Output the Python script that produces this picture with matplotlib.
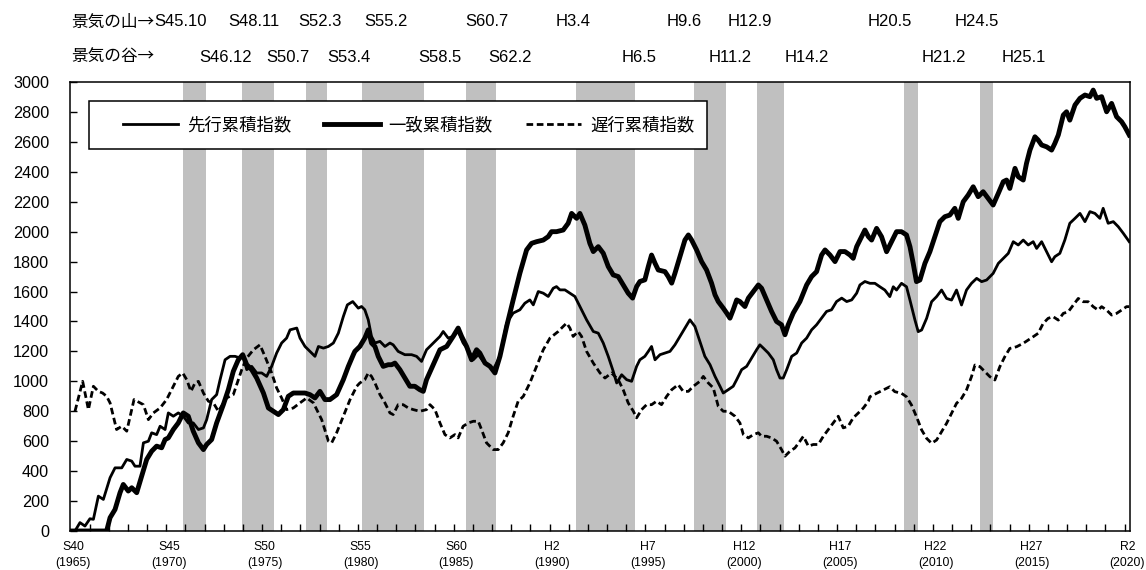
import matplotlib
matplotlib.use("Agg")
import matplotlib.pyplot as plt
from matplotlib.patches import Rectangle
from matplotlib.lines import Line2D
import numpy as np

# ---------------- data (decimal year, cumulative index) ----------------
lead_t = [1965.10, 1965.36, 1965.62, 1965.88, 1966.06, 1966.32, 1966.58, 1966.93, 1967.19, 1967.54,
          1967.80, 1968.06, 1968.23, 1968.49, 1968.67, 1968.93, 1969.10, 1969.36, 1969.54, 1969.80,
          1969.97, 1970.23, 1970.49, 1970.75, 1971.01, 1971.27, 1971.54, 1971.80, 1971.97, 1972.23,
          1972.49, 1972.67, 1972.93, 1973.19, 1973.45, 1973.71, 1973.88, 1974.06, 1974.32, 1974.58,
          1974.84, 1975.10, 1975.36, 1975.62, 1975.88, 1976.14, 1976.32, 1976.67, 1976.84, 1977.10,
          1977.36, 1977.62, 1977.80, 1978.06, 1978.32, 1978.58, 1978.84, 1979.10, 1979.31, 1979.59,
          1979.88, 1980.05, 1980.22, 1980.40, 1980.57, 1980.75, 1981.01, 1981.27, 1981.53, 1981.70,
          1981.96, 1982.31, 1982.66, 1982.92, 1983.18, 1983.44, 1983.79, 1984.14, 1984.31, 1984.57,
          1984.83, 1985.09, 1985.35, 1985.62, 1985.88, 1986.14, 1986.40, 1986.66, 1986.92, 1987.27,
          1987.62, 1987.96, 1988.31, 1988.57, 1988.83, 1989.01, 1989.27, 1989.53, 1989.79, 1990.05,
          1990.22, 1990.40, 1990.66, 1990.92, 1991.18, 1991.44, 1991.79, 1992.14, 1992.40, 1992.66,
          1992.92, 1993.18, 1993.36, 1993.62, 1993.88, 1994.14, 1994.40, 1994.57, 1994.83, 1995.01,
          1995.18, 1995.36, 1995.62, 1995.88, 1996.14, 1996.40, 1996.66, 1996.92, 1997.18, 1997.44,
          1997.70, 1997.96, 1998.23, 1998.49, 1998.75, 1998.92, 1999.18, 1999.44, 1999.62, 1999.88,
          2000.14, 2000.40, 2000.66, 2000.83, 2001.01, 2001.27, 2001.53, 2001.70, 2001.88, 2002.05,
          2002.23, 2002.49, 2002.75, 2003.01, 2003.27, 2003.53, 2003.79, 2004.05, 2004.31, 2004.57,
          2004.83, 2005.10, 2005.36, 2005.62, 2005.88, 2006.05, 2006.31, 2006.57, 2006.83, 2007.09,
          2007.35, 2007.61, 2007.79, 2007.96, 2008.22, 2008.48, 2008.66, 2008.92, 2009.09, 2009.27,
          2009.53, 2009.79, 2010.05, 2010.31, 2010.57, 2010.83, 2011.09, 2011.35, 2011.61, 2011.87,
          2012.14, 2012.40, 2012.66, 2013.00, 2013.27, 2013.53, 2013.79, 2014.05, 2014.31, 2014.57,
          2014.83, 2015.09, 2015.27, 2015.53, 2015.79, 2016.05, 2016.22, 2016.48, 2016.74, 2017.00,
          2017.27, 2017.53, 2017.79, 2018.05, 2018.31, 2018.57, 2018.74, 2019.00, 2019.27, 2019.53,
          2019.79, 2020.10]
lead_v = [0, 56, 33, 82, 78, 233, 211, 356, 422, 422,
          478, 467, 433, 433, 589, 600, 656, 644, 700, 678,
          789, 767, 789, 767, 722, 722, 678, 689, 744, 878,
          911, 1011, 1144, 1167, 1167, 1156, 1167, 1078, 1100, 1056,
          1056, 1033, 1100, 1189, 1256, 1289, 1344, 1356, 1289, 1233,
          1200, 1167, 1233, 1222, 1233, 1256, 1322, 1433, 1511, 1533,
          1489, 1500, 1478, 1411, 1300, 1256, 1267, 1233, 1256, 1244,
          1200, 1178, 1178, 1167, 1133, 1211, 1256, 1300, 1333, 1289,
          1300, 1333, 1256, 1211, 1144, 1178, 1133, 1111, 1078, 1167,
          1389, 1456, 1478, 1522, 1544, 1511, 1600, 1589, 1567, 1622,
          1633, 1611, 1611, 1589, 1567, 1500, 1411, 1333, 1322, 1256,
          1167, 1067, 989, 1044, 1011, 1000, 1100, 1144, 1167, 1200,
          1233, 1144, 1178, 1189, 1200, 1244, 1300, 1356, 1411, 1367,
          1267, 1167, 1111, 1033, 967, 922, 944, 967, 1011, 1078,
          1100, 1156, 1211, 1244, 1222, 1189, 1144, 1078, 1022, 1022,
          1078, 1167, 1189, 1256, 1289, 1344, 1378, 1422, 1467, 1478,
          1533, 1556, 1533, 1544, 1589, 1644, 1667, 1655, 1655, 1632,
          1610, 1566, 1632, 1610, 1655, 1632, 1543, 1410, 1332, 1343,
          1421, 1532, 1566, 1610, 1554, 1543, 1610, 1510, 1610, 1655,
          1688, 1666, 1677, 1721, 1788, 1822, 1855, 1933, 1911, 1944,
          1911, 1933, 1888, 1933, 1866, 1799, 1833, 1855, 1944, 2056,
          2089, 2122, 2067, 2134, 2122, 2089, 2156, 2056, 2067, 2033,
          1989, 1933]

coin_t = [1964.84, 1966.75, 1966.93, 1967.19, 1967.45, 1967.62, 1967.88, 1968.06, 1968.32, 1968.58,
          1968.84, 1969.10, 1969.36, 1969.62, 1969.80, 1969.97, 1970.23, 1970.49, 1970.75, 1971.01,
          1971.27, 1971.54, 1971.80, 1971.97, 1972.23, 1972.49, 1972.84, 1973.10, 1973.36, 1973.62,
          1973.85, 1974.06, 1974.32, 1974.58, 1974.93, 1975.19, 1975.45, 1975.71, 1975.97, 1976.23,
          1976.49, 1976.75, 1977.10, 1977.36, 1977.62, 1977.88, 1978.14, 1978.40, 1978.75, 1979.10,
          1979.36, 1979.62, 1979.70, 1979.96, 1980.22, 1980.40, 1980.57, 1980.75, 1980.92, 1981.18,
          1981.44, 1981.62, 1981.79, 1982.05, 1982.31, 1982.57, 1982.83, 1983.09, 1983.27, 1983.44,
          1983.79, 1984.14, 1984.49, 1984.83, 1985.09, 1985.27, 1985.53, 1985.79, 1986.05, 1986.22,
          1986.49, 1986.75, 1987.01, 1987.27, 1987.62, 1987.96, 1988.31, 1988.66, 1988.92, 1989.18,
          1989.53, 1989.79, 1989.96, 1990.22, 1990.57, 1990.83, 1991.01, 1991.27, 1991.44, 1991.70,
          1991.96, 1992.14, 1992.40, 1992.66, 1992.92, 1993.18, 1993.44, 1993.70, 1993.96, 1994.19,
          1994.40, 1994.57, 1994.83, 1995.01, 1995.18, 1995.36, 1995.53, 1995.88, 1996.05, 1996.23,
          1996.40, 1996.66, 1996.92, 1997.10, 1997.27, 1997.53, 1997.79, 1998.05, 1998.31, 1998.49,
          1998.66, 1998.92, 1999.10, 1999.27, 1999.44, 1999.62, 1999.79, 2000.05, 2000.23, 2000.49,
          2000.75, 2000.92, 2001.18, 2001.44, 2001.70, 2001.96, 2002.14, 2002.31, 2002.57, 2002.92,
          2003.27, 2003.53, 2003.79, 2004.05, 2004.23, 2004.49, 2004.75, 2005.01, 2005.27, 2005.53,
          2005.70, 2005.88, 2006.14, 2006.31, 2006.49, 2006.66, 2006.92, 2007.18, 2007.44, 2007.70,
          2007.96, 2008.22, 2008.48, 2008.66, 2008.83, 2009.00, 2009.18, 2009.44, 2009.70, 2009.96,
          2010.22, 2010.48, 2010.74, 2011.00, 2011.18, 2011.44, 2011.70, 2011.96, 2012.22, 2012.48,
          2012.74, 2013.00, 2013.27, 2013.53, 2013.70, 2013.87, 2014.14, 2014.31, 2014.57, 2014.74,
          2014.92, 2015.18, 2015.35, 2015.53, 2015.79, 2016.05, 2016.22, 2016.40, 2016.66, 2016.83,
          2017.00, 2017.27, 2017.53, 2017.79, 2018.05, 2018.22, 2018.40, 2018.66, 2018.92, 2019.18,
          2019.44, 2019.70, 2019.87, 2020.10]
coin_v = [0, 0, 89, 144, 256, 311, 267, 289, 256, 367,
          478, 533, 567, 556, 611, 622, 678, 722, 789, 767,
          667, 589, 544, 578, 611, 722, 844, 944, 1067, 1144,
          1178, 1111, 1078, 1022, 922, 822, 800, 778, 811, 900,
          922, 922, 922, 911, 889, 933, 878, 878, 911, 1011,
          1100, 1178, 1200, 1233, 1289, 1344, 1256, 1233, 1167, 1100,
          1111, 1111, 1122, 1078, 1022, 967, 967, 944, 933, 1011,
          1111, 1211, 1233, 1300, 1356, 1300, 1233, 1144, 1211, 1189,
          1122, 1100, 1056, 1167, 1367, 1544, 1722, 1878, 1922, 1933,
          1944, 1967, 2000, 2000, 2011, 2056, 2122, 2089, 2122, 2044,
          1922, 1867, 1900, 1856, 1767, 1711, 1700, 1644, 1589, 1556,
          1633, 1667, 1678, 1767, 1844, 1789, 1744, 1733, 1700, 1656,
          1722, 1833, 1944, 1978, 1944, 1878, 1800, 1744, 1656, 1578,
          1533, 1489, 1456, 1422, 1478, 1544, 1533, 1500, 1556, 1600,
          1644, 1622, 1544, 1467, 1400, 1378, 1311, 1378, 1456, 1533,
          1644, 1700, 1733, 1844, 1878, 1844, 1800, 1867, 1867, 1844,
          1822, 1900, 1967, 2011, 1967, 1944, 2022, 1966, 1866, 1933,
          2000, 2000, 1978, 1900, 1788, 1666, 1677, 1788, 1866, 1966,
          2067, 2100, 2111, 2156, 2089, 2200, 2245, 2300, 2234, 2267,
          2222, 2178, 2256, 2334, 2345, 2289, 2423, 2367, 2345, 2456,
          2545, 2634, 2612, 2579, 2567, 2545, 2590, 2646, 2779, 2801,
          2745, 2846, 2891, 2913, 2902, 2946, 2891, 2902, 2801, 2857,
          2768, 2735, 2701, 2646]

lag_t = [1965.10, 1965.50, 1965.80, 1966.06, 1966.32, 1966.54, 1966.75, 1966.93, 1967.27, 1967.54,
         1967.80, 1968.18, 1968.49, 1968.67, 1968.93, 1969.19, 1969.54, 1969.88, 1970.23, 1970.49,
         1970.72, 1970.93, 1971.15, 1971.36, 1971.54, 1971.80, 1972.06, 1972.32, 1972.58, 1973.01,
         1973.36, 1973.80, 1974.06, 1974.41, 1974.75, 1975.01, 1975.36, 1975.62, 1975.88, 1976.14,
         1976.49, 1976.84, 1977.19, 1977.54, 1977.97, 1978.32, 1978.49, 1978.75, 1979.10, 1979.45,
         1979.80, 1979.96, 1980.22, 1980.40, 1980.57, 1980.75, 1981.01, 1981.27, 1981.53, 1981.70,
         1981.96, 1982.22, 1982.49, 1982.75, 1983.09, 1983.44, 1983.62, 1983.88, 1984.14, 1984.40,
         1984.66, 1984.92, 1985.09, 1985.35, 1985.62, 1985.88, 1986.14, 1986.31, 1986.57, 1986.92,
         1987.18, 1987.44, 1987.70, 1987.96, 1988.22, 1988.49, 1988.83, 1989.18, 1989.53, 1989.88,
         1990.31, 1990.57, 1990.75, 1990.92, 1991.09, 1991.35, 1991.53, 1991.79, 1992.14, 1992.49,
         1992.75, 1993.09, 1993.44, 1993.70, 1993.96, 1994.23, 1994.40, 1994.66, 1994.92, 1995.18,
         1995.44, 1995.70, 1995.97, 1996.23, 1996.57, 1996.83, 1997.10, 1997.36, 1997.70, 1997.88,
         1998.14, 1998.40, 1998.66, 1998.92, 1999.18, 1999.53, 1999.79, 1999.97, 2000.23, 2000.49,
         2000.75, 2000.92, 2001.18, 2001.44, 2001.70, 2001.96, 2002.14, 2002.40, 2002.66, 2002.92,
         2003.10, 2003.36, 2003.62, 2003.88, 2004.14, 2004.40, 2004.66, 2004.92, 2005.18, 2005.44,
         2005.70, 2005.97, 2006.23, 2006.49, 2006.57, 2006.92, 2007.27, 2007.61, 2007.87, 2008.22,
         2008.48, 2008.74, 2009.00, 2009.27, 2009.53, 2009.79, 2010.05, 2010.31, 2010.57, 2010.83,
         2011.09, 2011.35, 2011.61, 2011.87, 2012.05, 2012.31, 2012.57, 2012.83, 2013.09, 2013.35,
         2013.61, 2013.87, 2014.22, 2014.57, 2014.83, 2015.09, 2015.35, 2015.61, 2015.87, 2016.13,
         2016.40, 2016.66, 2016.92, 2017.18, 2017.44, 2017.70, 2017.96, 2018.22, 2018.48, 2018.66,
         2018.92, 2019.18, 2019.44, 2019.70, 2019.96, 2020.10]
lag_v = [800, 1000, 811, 967, 933, 922, 900, 856, 678, 700,
         667, 878, 856, 844, 744, 789, 822, 878, 967, 1033,
         1056, 1011, 933, 989, 1000, 922, 867, 856, 800, 889,
         911, 1078, 1156, 1211, 1244, 1167, 1056, 956, 889, 811,
         822, 856, 889, 856, 744, 600, 589, 656, 767, 878,
         967, 989, 1011, 1056, 1033, 989, 911, 856, 789, 778,
         844, 844, 822, 811, 800, 811, 844, 811, 722, 644,
         622, 644, 622, 700, 722, 733, 733, 678, 589, 544,
         544, 589, 656, 767, 867, 900, 989, 1100, 1211, 1289,
         1333, 1367, 1389, 1356, 1300, 1333, 1300, 1200, 1122, 1056,
         1022, 1056, 1011, 944, 856, 800, 756, 811, 844, 844,
         867, 844, 900, 944, 978, 933, 933, 967, 1000, 1033,
         989, 956, 833, 800, 800, 767, 722, 644, 622, 644,
         656, 633, 633, 622, 600, 544, 500, 533, 555, 600,
         633, 567, 578, 578, 633, 678, 722, 767, 689, 700,
         756, 789, 822, 867, 897, 920, 942, 964, 931, 920,
         897, 842, 764, 675, 619, 586, 608, 664, 719, 786,
         853, 886, 942, 1031, 1109, 1098, 1065, 1031, 1009, 1098,
         1165, 1220, 1231, 1254, 1276, 1298, 1321, 1387, 1421, 1432,
         1409, 1454, 1465, 1510, 1554, 1532, 1532, 1499, 1476, 1499,
         1476, 1443, 1454, 1476, 1499, 1499]

series_names = ["先行累積指数", "一致累積指数", "遅行累積指数"]

# business-cycle peaks and troughs (Japanese era notation)
peak_labels = ["S45.10", "S48.11", "S52.3", "S55.2", "S60.7", "H3.4", "H9.6", "H12.9", "H20.5", "H24.5"]
trough_labels = ["S46.12", "S50.7", "S53.4", "S58.5", "S62.2", "H6.5", "H11.2", "H14.2", "H21.2", "H25.1"]

# x-axis label years / era names
xlab_years = [1965, 1970, 1975, 1980, 1985, 1990, 1995, 2000, 2005, 2010, 2015, 2020]
xlab_era = ["S40", "S45", "S50", "S55", "S60", "H2", "H7", "H12", "H17", "H22", "H27", "R2"]

# ---------------- helpers ----------------
def era_to_year(s):
    era, rest = s[0], s[1:]
    y, m = rest.split(".")
    base = {"S": 1925, "H": 1988, "R": 2018}[era]
    return base + int(y) + (int(m) - 1) / 12.0

W, H = 1146, 570
fig = plt.figure(figsize=(W / 100, H / 100), dpi=100)
ax = fig.add_axes([70 / W, (H - 531) / H, (1130 - 70) / W, (531 - 82) / H])

LAT = ["Liberation Sans", "Noto Sans CJK JP"]
JP = ["Noto Sans CJK JP", "DejaVu Sans"]

LW_LEAD, LW_COIN, LW_LAG = 2.0, 3.5, 2.0
DASH = (0, (2.4, 1.3))

# recession shading
for p, t in zip(peak_labels, trough_labels):
    ax.axvspan(era_to_year(p), era_to_year(t), color="#c0c0c0", lw=0, zorder=0)

ax.plot(lead_t, lead_v, color="black", lw=LW_LEAD, zorder=3, solid_joinstyle="round")
ax.plot(coin_t, coin_v, color="black", lw=LW_COIN, zorder=3, solid_joinstyle="round")
ax.plot(lag_t, lag_v, color="black", lw=LW_LAG, ls=DASH, zorder=3)

ax.set_xlim(1964.84, 2020.14)
ax.set_ylim(0, 3000)
ax.set_yticks(np.arange(0, 3001, 200))
ax.tick_params(axis="y", direction="in", length=5, width=1, pad=15, labelsize=11.7)
for lab in ax.get_yticklabels():
    lab.set_family(LAT)

ax.set_xticks(xlab_years)
ax.set_xticklabels([f"{e}\n({y})" for e, y in zip(xlab_era, xlab_years)])
ax.tick_params(axis="x", which="major", length=0, pad=7, labelsize=8.8)
for lab in ax.get_xticklabels():
    lab.set_family(LAT)
    lab.set_linespacing(1.45)
ax.set_xticks(np.arange(1965, 2020) + 0.86, minor=True)
ax.tick_params(axis="x", which="minor", direction="in", length=5, width=1)

for sp in ax.spines.values():
    sp.set_linewidth(1.1)
    sp.set_color("black")

# legend (manual frame)
fig.patches.append(Rectangle((89 / W, 1 - 149 / H), (707 - 89) / W, (149 - 101) / H,
                             transform=fig.transFigure, facecolor="white", edgecolor="black",
                             lw=1.1, zorder=5))
handles = [Line2D([], [], color="black", lw=LW_LEAD),
           Line2D([], [], color="black", lw=LW_COIN),
           Line2D([], [], color="black", lw=LW_LAG, ls=DASH)]
leg = fig.legend(handles, series_names, loc="center left", bbox_to_anchor=(114 / W, 1 - 125 / H),
                 bbox_transform=fig.transFigure, ncol=3, frameon=False, borderpad=0,
                 handlelength=3.2, handletextpad=0.5, columnspacing=1.9,
                 prop={"family": JP, "size": 12.5})
leg.set_zorder(6)

# peak / trough annotations (pixel positions of text boxes)
peak_px = [None, 254, 320, 386, 487, 573, 684, 750, 890, 977]
trough_px = [226, 288, 349, 440, 510, 639, 730, 807, 944, 1024]
TOP_Y, BOT_Y = 22, 57
t_peak = fig.text(71 / W, 1 - TOP_Y / H, "景気の山→", ha="left", va="center",
                  family=JP, fontsize=12)
fig.text(71 / W, 1 - BOT_Y / H, "景気の谷→", ha="left", va="center", family=JP, fontsize=12)
fig.canvas.draw()
bb = t_peak.get_window_extent(renderer=fig.canvas.get_renderer())
fig.text(bb.x1 / W, 1 - TOP_Y / H, peak_labels[0], ha="left", va="center", family=LAT, fontsize=12)
for lab, px in zip(peak_labels[1:], peak_px[1:]):
    fig.text(px / W, 1 - TOP_Y / H, lab, ha="center", va="center", family=LAT, fontsize=12)
for lab, px in zip(trough_labels, trough_px):
    fig.text(px / W, 1 - BOT_Y / H, lab, ha="center", va="center", family=LAT, fontsize=12)

fig.savefig("out.png", dpi=100)
